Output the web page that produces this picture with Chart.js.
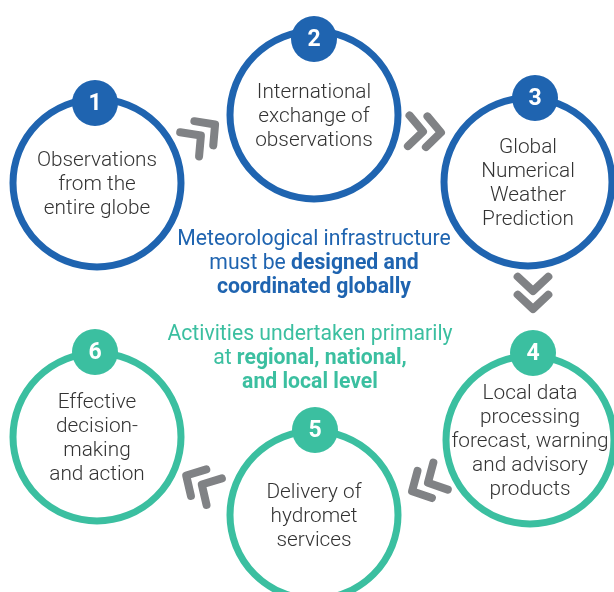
<!DOCTYPE html>
<html><head><meta charset="utf-8">
<script src="https://cdn.jsdelivr.net/npm/chart.js@4"></script>
<style>html,body{margin:0;padding:0;background:#fff;}canvas{display:block}</style>
</head><body>
<canvas id="c" width="614" height="592"></canvas>
<script>
// ---- content ----
const stepNumbers = ['1','2','3','4','5','6'];
const stepLabels = [
  ['Observations','from the','entire globe'],
  ['International','exchange of','observations'],
  ['Global','Numerical','Weather','Prediction'],
  ['Local data','processing','forecast, warning','and advisory','products'],
  ['Delivery of','hydromet','services'],
  ['Effective','decision-','making','and action']
];
const stepGroup = ['global','global','global','local','local','local'];
const globalNote = [
  [['Meteorological infrastructure', false]],
  [['must be ', false], ['designed and', true]],
  [['coordinated globally', true]]
];
const localNote = [
  [['Activities undertaken primarily', false]],
  [['at ', false], ['regional, national,', true]],
  [['and local level', true]]
];

// ---- layout (diagram coordinates, y downwards) ----
const layoutStepX = [97, 314, 528, 530, 314, 97];
const layoutStepY = [183, 115, 182, 440, 515, 437];
const layoutBadgeX = [95, 314, 535, 533, 315, 95];
const layoutBadgeY = [103, 39, 98, 353, 430, 352];
const layoutArrowX = [208, 432, 533, 420, 194];
const layoutArrowY = [130, 132, 300, 487, 480];
const layoutArrowDir = [-38, 3, 90, 152, 210];
const layoutNoteX = [314, 310];
const layoutNoteY = [240, 335];

// ---- styles ----
const colors = { global: '#1f64b0', local: '#3bbfa0', arrow: '#808285', text: '#333333' };
const RING_R = 84, RING_W = 7, BADGE_R = 23, LH = 24;
const FONT = 'Roboto';
const LABEL_SIZE = 20.8, NOTE_SIZE = 21.2;

const pts = (xs, ys) => xs.map((v, i) => ({ x: v, y: ys[i] }));

const overlay = {
  id: 'overlay',
  beforeDatasetsDraw(chart) {
    const { ctx, scales: { x, y } } = chart;
    ctx.save();
    ctx.strokeStyle = colors.arrow;
    ctx.lineWidth = 8;
    ctx.lineCap = 'round';
    ctx.lineJoin = 'round';
    const arm = 21, half = 47 * Math.PI / 180, gap = 18;
    layoutArrowX.forEach((ax, i) => {
      const cx = x.getPixelForValue(ax), cy = y.getPixelForValue(layoutArrowY[i]);
      const t = layoutArrowDir[i] * Math.PI / 180;
      const dx = Math.cos(t), dy = Math.sin(t);
      [-gap / 2, gap / 2].forEach(o => {
        const px = cx + dx * o, py = cy + dy * o;
        const back = t + Math.PI;
        ctx.beginPath();
        ctx.moveTo(px + Math.cos(back + half) * arm, py + Math.sin(back + half) * arm);
        ctx.lineTo(px, py);
        ctx.lineTo(px + Math.cos(back - half) * arm, py + Math.sin(back - half) * arm);
        ctx.stroke();
      });
    });
    ctx.restore();
  },
  afterDatasetsDraw(chart) {
    const { ctx, scales: { x, y } } = chart;
    ctx.save();
    ctx.textAlign = 'center';
    ctx.textBaseline = 'middle';
    // step labels
    ctx.fillStyle = colors.text;
    ctx.font = '300 ' + LABEL_SIZE + 'px ' + FONT;
    stepLabels.forEach((lines, i) => {
      const cx = x.getPixelForValue(layoutStepX[i]);
      const cy = y.getPixelForValue(layoutStepY[i]) + 2;
      const n = lines.length;
      lines.forEach((t, j) => ctx.fillText(t, cx, cy + (j - (n - 1) / 2) * LH));
    });
    // badge numbers
    ctx.fillStyle = '#ffffff';
    ctx.font = 'bold 23px ' + FONT;
    stepNumbers.forEach((t, i) => {
      ctx.fillText(t, x.getPixelForValue(layoutBadgeX[i]), y.getPixelForValue(layoutBadgeY[i]) + 1);
    });
    // notes
    const drawNote = (note, nx, ny, color) => {
      ctx.fillStyle = color;
      ctx.textAlign = 'left';
      const f = b => (b ? 'bold ' : '400 ') + NOTE_SIZE + 'px ' + FONT;
      note.forEach((segs, j) => {
        let w = 0;
        segs.forEach(([t, b]) => { ctx.font = f(b); w += ctx.measureText(t).width; });
        let sx = x.getPixelForValue(nx) - w / 2;
        const sy = y.getPixelForValue(ny) + j * LH;
        segs.forEach(([t, b]) => {
          ctx.font = f(b);
          ctx.fillText(t, sx, sy);
          sx += ctx.measureText(t).width;
        });
      });
    };
    drawNote(globalNote, layoutNoteX[0], layoutNoteY[0], colors.global);
    drawNote(localNote, layoutNoteX[1], layoutNoteY[1], colors.local);
    ctx.restore();
  }
};

new Chart(document.getElementById('c'), {
  type: 'scatter',
  data: {
    datasets: [
      {
        label: 'badges',
        order: 0,
        data: pts(layoutBadgeX, layoutBadgeY),
        pointRadius: BADGE_R,
        pointBorderWidth: 0,
        borderWidth: 0,
        backgroundColor: stepGroup.map(g => colors[g]),
        pointBackgroundColor: stepGroup.map(g => colors[g]),
        clip: false
      },
      {
        label: 'steps',
        order: 1,
        data: pts(layoutStepX, layoutStepY),
        pointRadius: RING_R,
        pointBorderWidth: RING_W,
        borderWidth: RING_W,
        pointBorderColor: stepGroup.map(g => colors[g]),
        pointBackgroundColor: '#ffffff',
        clip: false
      }
    ]
  },
  options: {
    responsive: false,
    animation: false,
    devicePixelRatio: 1,
    layout: { padding: 0, autoPadding: false },
    events: [],
    plugins: { legend: { display: false }, tooltip: { enabled: false } },
    scales: {
      x: { type: 'linear', min: 0, max: 614, display: false },
      y: { type: 'linear', min: 0, max: 592, reverse: true, display: false }
    }
  },
  plugins: [overlay]
});
</script>
</body></html>
